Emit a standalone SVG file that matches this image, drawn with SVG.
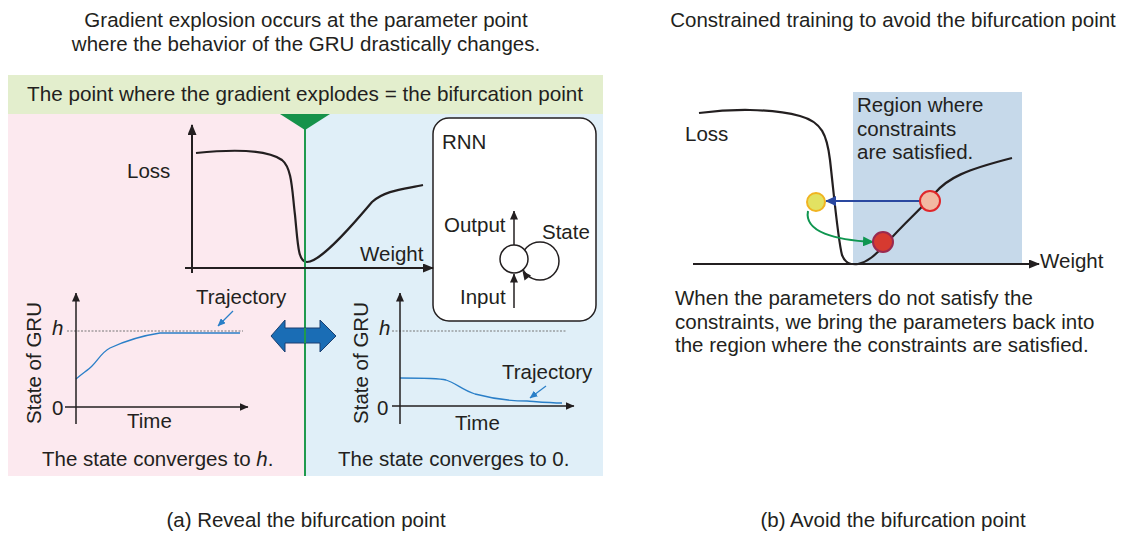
<svg xmlns="http://www.w3.org/2000/svg" width="1122" height="534" viewBox="0 0 1122 534">
<defs>
<style>
text{font-family:"Liberation Sans",Arial,sans-serif;font-size:20.5px;fill:#231f20}
.mid{text-anchor:middle}
.ax{stroke:#231f20;stroke-width:2;fill:none}
.ax2{stroke:#231f20;stroke-width:1.5;fill:none}
.curve{stroke:#231f20;stroke-width:2.2;fill:none}
.traj{stroke:#2a7fc8;stroke-width:1.3;fill:none}
.dash{stroke:#777;stroke-width:1;stroke-dasharray:2 1.5;fill:none}
</style>
<marker id="ah" markerUnits="userSpaceOnUse" markerWidth="11" markerHeight="9" refX="10" refY="4.5" orient="auto"><path d="M0,0 L11,4.5 L0,9 z" fill="#231f20"/></marker>
<marker id="ahs" markerUnits="userSpaceOnUse" markerWidth="9" markerHeight="8" refX="8.5" refY="4" orient="auto"><path d="M0,0 L9,4 L0,8 z" fill="#231f20"/></marker>
<marker id="ahb" markerUnits="userSpaceOnUse" markerWidth="8" markerHeight="7" refX="7.5" refY="3.5" orient="auto"><path d="M0,0 L8,3.5 L0,7 z" fill="#2a7fc8"/></marker>
<marker id="ahblue" markerUnits="userSpaceOnUse" markerWidth="11" markerHeight="10" refX="10" refY="5" orient="auto"><path d="M0,0 L11,5 L0,10 z" fill="#2a48a0"/></marker>
<marker id="ahgreen" markerUnits="userSpaceOnUse" markerWidth="11" markerHeight="10" refX="10" refY="5" orient="auto"><path d="M0,0 L11,5 L0,10 z" fill="#0f9650"/></marker>
</defs>

<g id="titles">
<text class="mid" x="306" y="27">Gradient explosion occurs at the parameter point</text>
<text class="mid" x="306" y="51">where the behavior of the GRU drastically changes.</text>
<text class="mid" x="893" y="27">Constrained training to avoid the bifurcation point</text>
<text class="mid" x="306" y="527">(a) Reveal the bifurcation point</text>
<text class="mid" x="893" y="527">(b) Avoid the bifurcation point</text>
</g>

<g id="panel-a-background">
<rect x="8" y="75" width="595" height="39" fill="#e3eecd"/>
<rect x="8" y="114" width="297" height="362" fill="#fce9ef"/>
<rect x="305" y="114" width="298" height="362" fill="#e0eff8"/>
<text style="font-size:20.7px" x="27" y="101">The point where the gradient explodes = the bifurcation point</text>
</g>

<g id="loss-plot-a">
<path class="curve" d="M196,153 C225,150 265,148 282,160 C292,168 292,190 295,215 C298,245 298,262 307,262 C318,262 340,240 372,202 C385,190 405,189 423,185"/>
<text x="127" y="178">Loss</text>
<text x="360" y="261">Weight</text>
</g>

<g id="bifurcation-marker">
<line x1="305" y1="114" x2="305" y2="476" stroke="#1f9a4e" stroke-width="2"/>
<polygon points="280,114 330,114 305,130" fill="#16924a"/>
</g>

<g id="rnn-box">
<rect x="433" y="118" width="163" height="203" rx="16" fill="#fff" stroke="#231f20" stroke-width="1.5"/>
<text x="442" y="149">RNN</text>
<text x="444" y="232">Output</text>
<text x="542" y="239">State</text>
<text x="460" y="304">Input</text>
<circle cx="540" cy="261" r="19" fill="none" stroke="#231f20" stroke-width="1.5"/>
<circle cx="514" cy="259" r="14" fill="#fff" stroke="#231f20" stroke-width="1.5"/>
<polygon points="522.5,271 531,275.5 524.5,280.5" fill="#231f20"/>
</g>

<g id="gru-plot-a">
<line class="dash" x1="67" y1="331" x2="243" y2="331"/>
<path class="traj" d="M76,379 C83,373 88,370 92,366 C98,360 102,352 110,348 C125,341 140,336 160,333 L240,333"/>
<text x="52" y="335" style="font-style:italic">h</text>
<text x="52" y="415">0</text>
<text class="mid" transform="translate(41,363) rotate(-90)">State of GRU</text>
<text x="127" y="428">Time</text>
<text x="196" y="304">Trajectory</text>
<text x="42" y="466">The state converges to <tspan style="font-style:italic">h</tspan>.</text>
</g>

<g id="gru-plot-b">
<line class="dash" x1="392" y1="331" x2="567" y2="331"/>
<path class="traj" d="M400,378 C420,378 438,378 446,380 C456,383 462,390 475,394 C490,398 510,401 527,401 C540,402 550,403 562,403"/>
<text x="379" y="335" style="font-style:italic">h</text>
<text x="377" y="415">0</text>
<text class="mid" transform="translate(368,363) rotate(-90)">State of GRU</text>
<text x="455" y="430">Time</text>
<text x="502" y="379">Trajectory</text>
<text x="338" y="466">The state converges to 0.</text>
</g>

<g id="double-arrow">
<polygon points="271,336 285,320 285,328 320,328 320,320 336,336 320,352 320,343 285,343 285,352" fill="#1a6db5" stroke="#1a3f70" stroke-width="1"/>
<line x1="305" y1="328" x2="305" y2="343" stroke="#1f9a4e" stroke-width="2"/>
</g>

<g id="panel-b">
<rect x="853" y="92" width="169" height="171" fill="#c6d9ea"/>
<path class="curve" d="M699,113 C730,109 770,108 800,116 C822,122 827,135 830,160 C834,195 838,240 842,255 C845,263 850,265 858,264 C868,262 875,255 885,245 C905,222 920,210 935,193 C948,178 965,170 1012,158"/>
<text x="685" y="141">Loss</text>
<text x="1040" y="268">Weight</text>
<text x="857" y="112">Region where</text>
<text x="857" y="135.5">constraints</text>
<text x="857" y="159">are satisfied.</text>
<text x="675" y="305">When the parameters do not satisfy the</text>
<text x="675" y="328.5">constraints, we bring the parameters back into</text>
<text x="675" y="352">the region where the constraints are satisfied.</text>
</g>

<g id="connectors">
<line class="ax" x1="192" y1="273" x2="192" y2="125" marker-end="url(#ah)"/>
<line class="ax" x1="185" y1="268" x2="433" y2="268" marker-end="url(#ah)"/>
<line class="ax2" x1="514" y1="245" x2="514" y2="211" marker-end="url(#ahs)"/>
<line class="ax2" x1="514" y1="308" x2="514" y2="274" marker-end="url(#ahs)"/>
<line class="ax2" x1="76" y1="424" x2="76" y2="293" marker-end="url(#ahs)"/>
<line class="ax2" x1="65" y1="407" x2="248" y2="407" marker-end="url(#ahs)"/>
<line class="ax2" x1="400" y1="424" x2="400" y2="293" marker-end="url(#ahs)"/>
<line class="ax2" x1="392" y1="406" x2="574" y2="406" marker-end="url(#ahs)"/>
<line x1="233" y1="311" x2="218" y2="326" stroke="#2a7fc8" stroke-width="1.2" marker-end="url(#ahb)"/>
<line x1="546" y1="386" x2="530" y2="398" stroke="#2a7fc8" stroke-width="1.2" marker-end="url(#ahb)"/>
<line class="ax" x1="693" y1="264" x2="1039" y2="264" marker-end="url(#ah)"/>
<line x1="920" y1="201" x2="826" y2="201" stroke="#2a48a0" stroke-width="2" marker-end="url(#ahblue)"/>
<path d="M808,211 C804,232 835,240 873,242" fill="none" stroke="#0f9650" stroke-width="2" marker-end="url(#ahgreen)"/>
</g>

<g id="points">
<circle cx="816" cy="202" r="9" fill="#e2e262" stroke="#f0b422" stroke-width="2"/>
<circle cx="930" cy="201" r="10" fill="#f2b8a2" stroke="#e0262a" stroke-width="2"/>
<circle cx="883" cy="242" r="10" fill="#d63a30" stroke="#9a2a50" stroke-width="2"/>
</g>
</svg>
